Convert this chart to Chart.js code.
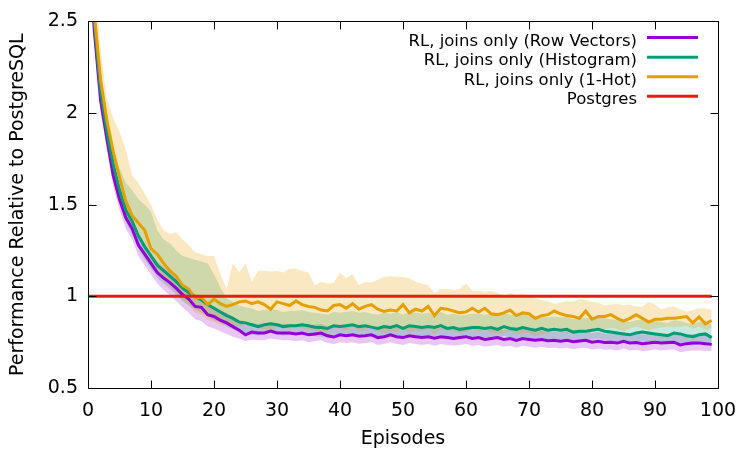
<!DOCTYPE html>
<html><head><meta charset="utf-8">
<script src="https://cdn.jsdelivr.net/npm/chart.js@4"></script>
<style>html,body{margin:0;padding:0;background:#fff}canvas{display:block}</style>
</head><body>
<canvas id="c" width="750" height="450" style="width:750px;height:450px"></canvas>
<script>
const episodes = Array.from({length: 100}, (_, i) => i);
const xTicks = [0, 10, 20, 30, 40, 50, 60, 70, 80, 90, 100];
const yTicks = [0.5, 1, 1.5, 2, 2.5];
const yTickLabels = ['0.5', '1', '1.5', '2', '2.5'];
const seriesLabels = ['RL, joins only (Row Vectors)', 'RL, joins only (Histogram)', 'RL, joins only (1-Hot)', 'Postgres'];

const rowVectors = [2.95,2.45,2.07,1.86,1.66,1.53,1.43,1.37,1.28,1.23,
1.18,1.13,1.10,1.075,1.045,1.01,0.985,0.945,0.94,0.90,
0.89,0.87,0.855,0.835,0.815,0.79,0.805,0.80,0.80,0.81,
0.80,0.80,0.80,0.795,0.80,0.79,0.795,0.80,0.785,0.778,
0.79,0.785,0.79,0.782,0.785,0.79,0.775,0.78,0.79,0.78,
0.775,0.785,0.78,0.775,0.78,0.772,0.78,0.775,0.77,0.775,
0.78,0.77,0.775,0.765,0.77,0.775,0.765,0.77,0.76,0.77,
0.765,0.76,0.765,0.758,0.76,0.755,0.76,0.752,0.757,0.76,
0.75,0.755,0.748,0.75,0.745,0.755,0.745,0.748,0.742,0.745,
0.75,0.745,0.748,0.75,0.735,0.742,0.745,0.745,0.742,0.738];
const rowVectorsLow = [2.87,2.38,2.01,1.80,1.60,1.47,1.37,1.31,1.22,1.17,
1.12,1.07,1.035,1.005,0.975,0.94,0.91,0.875,0.865,0.835,
0.825,0.81,0.795,0.78,0.77,0.755,0.765,0.76,0.76,0.77,
0.765,0.76,0.76,0.755,0.76,0.75,0.755,0.76,0.745,0.74,
0.75,0.745,0.75,0.742,0.745,0.75,0.735,0.74,0.75,0.74,
0.735,0.745,0.74,0.735,0.74,0.73,0.74,0.735,0.73,0.735,
0.74,0.73,0.735,0.725,0.73,0.735,0.725,0.73,0.72,0.73,
0.725,0.72,0.725,0.718,0.72,0.715,0.72,0.712,0.717,0.72,
0.71,0.715,0.708,0.71,0.705,0.715,0.705,0.708,0.702,0.705,
0.71,0.705,0.708,0.71,0.695,0.702,0.705,0.705,0.702,0.70];
const rowVectorsHigh = [3.02,2.52,2.13,1.92,1.72,1.59,1.49,1.43,1.34,1.29,
1.24,1.19,1.16,1.135,1.10,1.07,1.04,1.0,0.995,0.955,
0.945,0.925,0.91,0.89,0.865,0.84,0.855,0.85,0.85,0.86,
0.85,0.85,0.85,0.845,0.85,0.84,0.845,0.85,0.835,0.83,
0.84,0.835,0.84,0.83,0.835,0.84,0.825,0.83,0.84,0.83,
0.825,0.835,0.83,0.825,0.83,0.82,0.83,0.825,0.82,0.825,
0.83,0.82,0.825,0.815,0.82,0.825,0.815,0.82,0.81,0.82,
0.815,0.81,0.815,0.808,0.81,0.805,0.81,0.802,0.807,0.81,
0.80,0.805,0.798,0.80,0.795,0.805,0.795,0.798,0.792,0.795,
0.80,0.795,0.798,0.80,0.785,0.792,0.795,0.795,0.792,0.788];

const histogram = [3.0,2.5,2.12,1.90,1.72,1.58,1.47,1.41,1.33,1.27,
1.22,1.17,1.14,1.11,1.08,1.045,1.02,1.0,0.98,0.955,
0.935,0.915,0.895,0.88,0.86,0.855,0.845,0.835,0.845,0.85,
0.845,0.835,0.84,0.84,0.845,0.84,0.832,0.83,0.825,0.84,
0.835,0.84,0.845,0.835,0.84,0.832,0.825,0.835,0.83,0.84,
0.825,0.84,0.835,0.83,0.835,0.83,0.84,0.825,0.83,0.82,
0.825,0.83,0.83,0.825,0.83,0.82,0.835,0.825,0.82,0.83,
0.822,0.815,0.825,0.815,0.82,0.815,0.82,0.805,0.81,0.81,
0.815,0.82,0.81,0.805,0.80,0.795,0.79,0.80,0.805,0.80,
0.795,0.79,0.785,0.80,0.795,0.785,0.78,0.79,0.795,0.775];
const histogramLow = [2.92,2.43,2.05,1.83,1.65,1.51,1.40,1.34,1.26,1.20,
1.15,1.10,1.07,1.04,1.01,0.975,0.95,0.93,0.91,0.89,
0.87,0.855,0.835,0.82,0.805,0.80,0.79,0.785,0.795,0.80,
0.795,0.785,0.79,0.79,0.795,0.79,0.782,0.78,0.775,0.79,
0.785,0.79,0.795,0.785,0.79,0.782,0.775,0.785,0.78,0.79,
0.775,0.79,0.785,0.78,0.785,0.78,0.79,0.775,0.78,0.77,
0.775,0.78,0.78,0.775,0.78,0.77,0.785,0.775,0.77,0.78,
0.772,0.765,0.775,0.765,0.77,0.765,0.77,0.755,0.76,0.76,
0.765,0.77,0.76,0.755,0.75,0.745,0.74,0.75,0.755,0.75,
0.745,0.74,0.735,0.75,0.745,0.735,0.73,0.74,0.745,0.725];
const histogramHigh = [3.12,2.64,2.24,2.0,1.80,1.70,1.62,1.58,1.53,1.50,
1.46,1.36,1.31,1.29,1.25,1.22,1.21,1.20,1.19,1.18,
1.12,1.05,0.99,0.97,0.95,0.94,0.935,0.92,0.925,0.93,
0.925,0.915,0.92,0.92,0.925,0.915,0.91,0.905,0.90,0.915,
0.91,0.915,0.92,0.91,0.915,0.905,0.90,0.91,0.905,0.915,
0.90,0.915,0.91,0.905,0.91,0.90,0.915,0.90,0.905,0.895,
0.90,0.905,0.905,0.90,0.905,0.895,0.91,0.90,0.895,0.905,
0.895,0.89,0.90,0.885,0.89,0.885,0.89,0.875,0.88,0.88,
0.885,0.89,0.88,0.875,0.87,0.865,0.86,0.87,0.875,0.87,
0.865,0.86,0.855,0.87,0.865,0.855,0.85,0.86,0.865,0.845];

const oneHot = [3.1,2.54,2.18,1.96,1.79,1.65,1.52,1.44,1.40,1.36,
1.26,1.23,1.18,1.14,1.11,1.06,1.04,0.99,0.995,0.955,
0.985,0.96,0.945,0.955,0.97,0.975,0.96,0.97,0.955,0.93,
0.97,0.96,0.95,0.975,0.955,0.945,0.94,0.925,0.92,0.95,
0.955,0.935,0.96,0.93,0.945,0.955,0.93,0.918,0.925,0.92,
0.955,0.91,0.93,0.92,0.945,0.895,0.935,0.93,0.92,0.91,
0.915,0.935,0.915,0.935,0.905,0.90,0.91,0.925,0.895,0.91,
0.905,0.88,0.895,0.90,0.92,0.905,0.895,0.89,0.88,0.92,
0.875,0.89,0.89,0.90,0.88,0.865,0.88,0.90,0.88,0.86,
0.875,0.875,0.88,0.88,0.885,0.89,0.855,0.888,0.85,0.868];
const oneHotLow = [2.98,2.46,2.10,1.88,1.71,1.57,1.44,1.37,1.32,1.27,
1.18,1.14,1.09,1.05,1.02,0.98,0.95,0.91,0.90,0.87,
0.86,0.845,0.84,0.835,0.84,0.845,0.84,0.83,0.82,0.81,
0.835,0.83,0.82,0.835,0.825,0.82,0.815,0.81,0.805,0.825,
0.83,0.815,0.83,0.81,0.82,0.83,0.81,0.80,0.81,0.805,
0.83,0.80,0.815,0.81,0.825,0.79,0.82,0.815,0.81,0.80,
0.805,0.82,0.805,0.82,0.80,0.795,0.80,0.815,0.79,0.80,
0.80,0.785,0.795,0.80,0.815,0.805,0.80,0.81,0.80,0.825,
0.81,0.82,0.82,0.83,0.82,0.81,0.825,0.835,0.825,0.815,
0.825,0.83,0.835,0.83,0.835,0.84,0.82,0.835,0.815,0.83];
const oneHotHigh = [3.25,2.75,2.35,2.08,1.97,1.90,1.80,1.66,1.62,1.56,
1.50,1.42,1.36,1.34,1.35,1.31,1.28,1.24,1.23,1.22,
1.22,1.125,1.04,1.18,1.13,1.18,1.08,1.14,1.14,1.135,
1.14,1.13,1.15,1.15,1.14,1.13,1.06,1.08,1.07,1.075,
1.13,1.10,1.12,1.06,1.08,1.075,1.09,1.107,1.11,1.107,
1.105,1.10,1.08,1.07,1.06,1.017,1.04,1.04,1.035,1.04,
1.07,1.03,1.03,1.025,1.03,1.02,1.00,1.02,1.01,1.015,
1.0,0.99,0.98,0.975,0.96,0.965,0.975,0.97,0.985,0.98,
0.97,0.965,0.95,0.955,0.96,0.95,0.955,0.945,0.944,0.97,
0.955,0.93,0.94,0.945,0.93,0.917,0.925,0.935,0.935,0.925];

const postgres = [1,1,1,1,1,1,1,1,1,1, 1,1,1,1,1,1,1,1,1,1,
1,1,1,1,1,1,1,1,1,1, 1,1,1,1,1,1,1,1,1,1,
1,1,1,1,1,1,1,1,1,1, 1,1,1,1,1,1,1,1,1,1,
1,1,1,1,1,1,1,1,1,1, 1,1,1,1,1,1,1,1,1,1,
1,1,1,1,1,1,1,1,1,1, 1,1,1,1,1,1,1,1,1,1];

const colors = ['#9400d3', '#009e73', '#e69f00', '#e51e10'];
const bandColors = ['rgba(148,0,211,0.22)', 'rgba(0,158,115,0.22)', 'rgba(230,159,0,0.24)'];
const FONT = "'DejaVu Sans', sans-serif";
Chart.defaults.font.family = FONT;
Chart.defaults.color = '#000';

function line(label, data, color, order) {
  return {label, data, borderColor: color, borderWidth: 3, pointRadius: 0, fill: false, tension: 0, order};
}
function band(data, color, fill, order) {
  return {label: '', data, borderColor: 'rgba(0,0,0,0)', borderWidth: 0, backgroundColor: color, pointRadius: 0, fill, tension: 0, order};
}

const framePlugin = {
  id: 'frame',
  afterDraw(chart) {
    const {ctx, chartArea: a, scales: {x, y}} = chart;
    ctx.save();
    ctx.strokeStyle = '#000';
    ctx.lineWidth = 1;
    const L = Math.round(a.left) + 0.5, R = Math.round(a.right) + 0.5;
    const T = Math.round(a.top) + 0.5, B = Math.round(a.bottom) + 0.5;
    ctx.beginPath();
    ctx.rect(L, T, R - L, B - T);
    const tl = 8;
    xTicks.forEach(v => {
      const px = Math.round(x.getPixelForValue(v)) + 0.5;
      ctx.moveTo(px, B); ctx.lineTo(px, B - tl);
      ctx.moveTo(px, T); ctx.lineTo(px, T + tl);
    });
    yTicks.forEach(v => {
      const py = Math.round(y.getPixelForValue(v)) + 0.5;
      ctx.moveTo(L, py); ctx.lineTo(L + tl, py);
      ctx.moveTo(R, py); ctx.lineTo(R - tl, py);
    });
    ctx.stroke();
    // key
    ctx.font = '16.5px ' + FONT;
    ctx.textAlign = 'right';
    ctx.textBaseline = 'alphabetic';
    const rows = [37.5, 57.2, 76.8, 96.3];
    seriesLabels.forEach((lab, i) => {
      ctx.fillStyle = '#000';
      ctx.fillText(lab, 637, rows[i] + 8);
      ctx.strokeStyle = colors[i];
      ctx.lineWidth = 3;
      ctx.beginPath();
      ctx.moveTo(647, rows[i]); ctx.lineTo(698, rows[i]);
      ctx.stroke();
    });
    ctx.restore();
  }
};

new Chart(document.getElementById('c'), {
  type: 'line',
  data: {
    labels: episodes,
    datasets: [
      line(seriesLabels[3], postgres, colors[3], 0),
      line(seriesLabels[2], oneHot, colors[2], 1),
      line(seriesLabels[1], histogram, colors[1], 2),
      line(seriesLabels[0], rowVectors, colors[0], 3),
      band(oneHotHigh, bandColors[2], '+1', 4),
      band(oneHotLow, bandColors[2], false, 5),
      band(histogramHigh, bandColors[1], '+1', 6),
      band(histogramLow, bandColors[1], false, 7),
      band(rowVectorsHigh, bandColors[0], '+1', 8),
      band(rowVectorsLow, bandColors[0], false, 9)
    ]
  },
  options: {
    responsive: false,
    animation: false,
    devicePixelRatio: 1,
    layout: {padding: {top: 20, right: 32, left: 0, bottom: 0}},
    plugins: {
      legend: {display: false},
      tooltip: {enabled: false},
      filler: {drawTime: 'beforeDatasetsDraw'}
    },
    scales: {
      x: {
        type: 'linear', min: 0, max: 100,
        afterBuildTicks: s => { s.ticks = xTicks.map(v => ({value: v})); },
        ticks: {padding: 12, font: {size: 19}, color: '#000', maxRotation: 0, autoSkip: false, callback: v => String(v)},
        grid: {display: false, drawTicks: false},
        border: {display: false},
        title: {display: true, text: 'Episodes', font: {size: 19}, color: '#000', padding: {top: 0, bottom: 0}},
        afterFit: s => { s.height = 62; }
      },
      y: {
        type: 'linear', min: 0.5, max: 2.5,
        afterBuildTicks: s => { s.ticks = yTicks.map(v => ({value: v})); },
        ticks: {padding: 10, font: {size: 19}, color: '#000', callback: v => yTickLabels[yTicks.indexOf(v)]},
        grid: {display: false, drawTicks: false},
        border: {display: false},
        title: {display: true, text: 'Performance Relative to PostgreSQL', font: {size: 19}, color: '#000', padding: {top: 7, bottom: 0}},
        afterFit: s => { s.width = 88; }
      }
    }
  },
  plugins: [framePlugin]
});
</script>
</body></html>
